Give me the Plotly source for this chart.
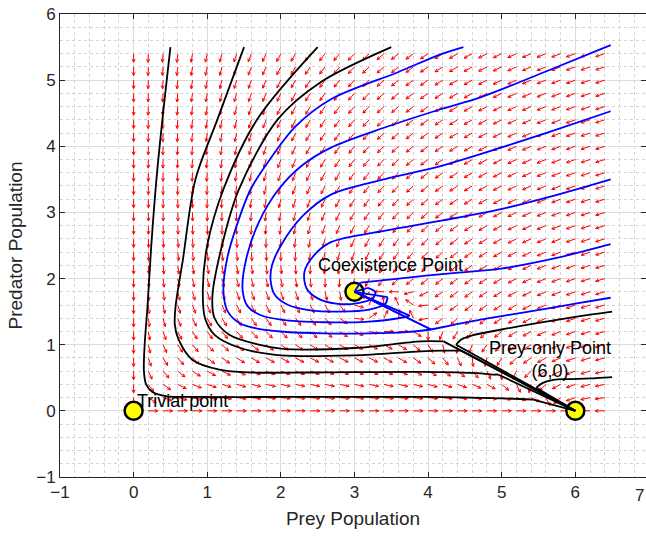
import numpy as np
import plotly.graph_objects as go

# ---- model used for the direction field ----
K_PREY = 6.0          # prey carrying capacity
Y_NULL = 3.6          # predator level that stops prey growth at x=0
EQ_COEX = (3.0, 1.8)  # coexistence equilibrium
EQ_PREY = (6.0, 0.0)  # prey-only equilibrium
EQ_TRIV = (0.0, 0.0)  # trivial equilibrium

# direction-field grid
grid_x = np.arange(0, 6.5, 0.2)
grid_y = np.arange(0, 5.5, 0.2)

# ---- trajectories: smooth part (x, y); each ends with a straight step to its equilibrium ----
black_paths = [
    ([0.50, 0.40, 0.31, 0.24, 0.19, 0.15, 0.14, 0.17, 0.26, 0.45, 0.80, 2.0, 3.0, 4.0, 5.0, 5.43],
     [5.50, 4.50, 3.50, 2.50, 1.60, 1.00, 0.60, 0.40, 0.28, 0.22, 0.21, 0.21, 0.21, 0.21, 0.19, 0.17]),
    ([1.50, 1.14, 0.84, 0.67, 0.57, 0.56, 0.61, 0.80, 1.18, 1.60, 2.4, 3.9, 4.67, 4.85, 4.95],
     [5.50, 4.41, 3.50, 2.29, 1.58, 1.30, 1.08, 0.77, 0.62, 0.58, 0.58, 0.59, 0.57, 0.55, 0.55]),
    ([2.50, 1.68, 1.22, 1.00, 0.94, 0.97, 1.10, 1.45, 2.0, 3.0, 3.9, 4.2, 4.45],
     [5.50, 4.41, 3.35, 2.50, 1.83, 1.40, 1.15, 0.95, 0.84, 0.84, 0.90, 0.91, 0.91]),
    ([3.50, 2.54, 1.96, 1.43, 1.20, 1.07, 1.10, 1.30, 1.70, 2.0, 3.0, 3.9, 4.21],
     [5.50, 4.97, 4.41, 3.35, 2.50, 1.73, 1.40, 1.15, 1.00, 0.94, 0.95, 1.05, 1.05]),
    ([6.5, 6.0, 5.5, 5.0, 4.6, 4.45, 4.38],
     [1.5, 1.42, 1.33, 1.23, 1.14, 1.08, 1.0]),
    ([6.5, 6.2, 5.9, 5.7, 5.55, 5.47],
     [0.51, 0.49, 0.48, 0.47, 0.42, 0.35]),
]

blue_paths = [
    ([4.48, 4.17, 3.59, 2.68, 2.20, 1.85, 1.59, 1.40, 1.27, 1.22, 1.28, 1.45, 1.70, 2.0, 2.6, 3.2, 3.7, 4.04],
     [5.50, 5.39, 5.12, 4.71, 4.30, 3.80, 3.35, 2.80, 2.30, 1.80, 1.50, 1.32, 1.24, 1.20, 1.17, 1.17, 1.19, 1.23]),
    ([6.48, 5.6, 4.71, 4.17, 3.4, 2.68, 2.30, 1.97, 1.70, 1.53, 1.48, 1.55, 1.72, 2.0, 2.6, 3.2, 3.6, 3.75],
     [5.53, 5.13, 4.74, 4.56, 4.28, 3.98, 3.72, 3.35, 2.85, 2.30, 1.83, 1.58, 1.45, 1.38, 1.34, 1.35, 1.40, 1.44]),
    ([6.48, 5.6, 4.71, 4.17, 3.4, 2.68, 2.30, 2.0, 1.88, 1.86, 1.92, 2.1, 2.4, 2.8, 3.2, 3.42, 3.45],
     [4.53, 4.20, 3.88, 3.70, 3.5, 3.27, 2.95, 2.5, 2.20, 1.98, 1.75, 1.60, 1.52, 1.50, 1.53, 1.62, 1.72]),
    ([6.48, 5.7, 4.99, 4.2, 3.4, 2.68, 2.45, 2.32, 2.35, 2.5, 2.75, 3.05, 3.25, 3.28, 3.18],
     [3.50, 3.25, 3.05, 2.88, 2.72, 2.55, 2.35, 2.10, 1.85, 1.70, 1.62, 1.63, 1.70, 1.80, 1.86]),
    ([6.48, 5.7, 4.99, 4.3, 3.6, 3.08],
     [2.52, 2.30, 2.15, 2.08, 2.00, 1.94]),
    ([6.48, 6.0, 5.53, 5.1, 4.71, 4.35, 4.04],
     [1.71, 1.62, 1.53, 1.45, 1.38, 1.30, 1.23]),
]

eq_x = [EQ_TRIV[0], EQ_COEX[0], EQ_PREY[0]]
eq_y = [EQ_TRIV[1], EQ_COEX[1], EQ_PREY[1]]


def field(x, y):
    dx = x * (1 - x / K_PREY - y / Y_NULL)
    g = -0.65 + 0.95 * np.exp(-((x - 3.5) / 0.8) ** 2 - ((y - 1.5) / 0.5) ** 2)
    dy = y * g
    return dx, dy


# ---- quiver arrows ----
X, Y = np.meshgrid(grid_x, grid_y)
U, V = field(X, Y)
L = np.hypot(U, V)
L[L == 0] = 1
U, V = U / L, V / L
ARROW = 0.13
qx, qy = [], []
sx, sy = 73.6, 66.1   # pixels per data unit, for head shape
for x0, y0, u, v in zip(X.ravel(), Y.ravel(), U.ravel(), V.ravel()):
    x1, y1 = x0 + ARROW * u, y0 + ARROW * v
    qx += [x0, x1, None]
    qy += [y0, y1, None]
    pu, pv = u * sx, v * sy
    n = np.hypot(pu, pv)
    if n == 0:
        continue
    pu, pv = pu / n, pv / n
    hl = 3.5
    for ang in (0.45, -0.45):
        c, s = np.cos(ang), np.sin(ang)
        bx = -(pu * c - pv * s) * hl
        by = -(pu * s + pv * c) * hl
        qx += [x1, x1 + bx / sx, None]
        qy += [y1, y1 + by / sy, None]

fig = go.Figure()
fig.add_trace(go.Scatter(x=qx, y=qy, mode="lines",
                         line=dict(color="red", width=1), hoverinfo="skip"))
fig.add_trace(go.Scatter(x=eq_x, y=eq_y, mode="markers",
                         marker=dict(size=18, color="yellow",
                                     line=dict(color="black", width=2.5))))


def add_path(xs, ys, end, color):
    fig.add_trace(go.Scatter(x=xs, y=ys, mode="lines",
                             line=dict(color=color, width=1.8, shape="spline", smoothing=0.9)))
    fig.add_trace(go.Scatter(x=[xs[-1], end[0]], y=[ys[-1], end[1]], mode="lines",
                             line=dict(color=color, width=1.8)))


for px, py in black_paths:
    add_path(px, py, EQ_PREY, "black")
for px, py in blue_paths:
    add_path(px, py, EQ_COEX, "blue")

font = "Liberation Sans, Arial, sans-serif"
fig.add_annotation(x=0.02, y=0.15, text="Trivial point", showarrow=False,
                   xanchor="left", yanchor="middle", font=dict(size=18, color="black"))
fig.add_annotation(x=2.48, y=2.2, text="Coexistence Point", showarrow=False,
                   xanchor="left", yanchor="middle", font=dict(size=18, color="black"))
fig.add_annotation(x=5.65, y=0.78, text="Prey-only Point<br>(6,0)", showarrow=False,
                   xanchor="center", yanchor="middle", font=dict(size=18, color="black"))
fig.add_annotation(xref="paper", x=1.0, yref="y", y=-1, text="7", showarrow=False,
                   yshift=-18, xanchor="right", yanchor="middle",
                   font=dict(size=17, color="#262626"))

axis_common = dict(showline=True, linecolor="#262626", linewidth=1, mirror="ticks",
                   ticks="inside", ticklen=5, tickcolor="#262626",
                   showgrid=True, gridcolor="#dcdcdc", gridwidth=1, zeroline=False,
                   tickfont=dict(size=17, color="#262626"),
                   minor=dict(dtick=0.2, showgrid=True, gridcolor="#d4d4d4",
                              griddash="dot", gridwidth=1, ticks=""))
fig.update_xaxes(range=[-1, 6.96], dtick=1, tick0=0,
                 title=dict(text="Prey Population", font=dict(size=19, color="#262626"), standoff=10),
                 **axis_common)
fig.update_yaxes(range=[-1, 6], dtick=1, tick0=0,
                 title=dict(text="Predator Population", font=dict(size=19, color="#262626"), standoff=8),
                 **axis_common)
fig.update_layout(width=646, height=538, showlegend=False,
                  margin=dict(l=60, r=0, t=14, b=61),
                  plot_bgcolor="white", paper_bgcolor="white",
                  font=dict(family=font))
fig.write_html("out.html")
